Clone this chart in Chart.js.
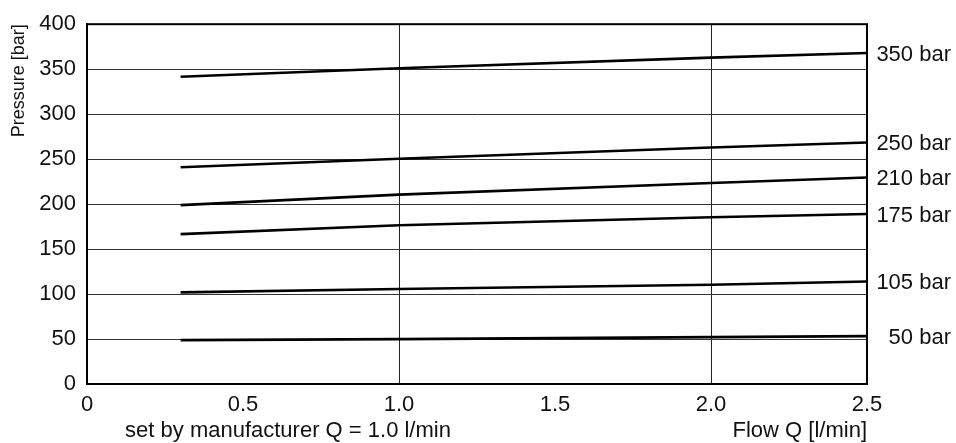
<!DOCTYPE html>
<html>
<head>
<meta charset="utf-8">
<script src="https://cdn.jsdelivr.net/npm/chart.js@4"></script>
<style>
html,body{margin:0;padding:0;background:#fff;}
#c{display:block;}
</style>
</head>
<body>
<canvas id="c" width="956" height="443"></canvas>
<script>
// ---- data ----
const flowQ = [0.3, 1.0, 2.0, 2.5];
const seriesNames = ["350 bar", "250 bar", "210 bar", "175 bar", "105 bar", "50 bar"];
const p350 = [341.6, 351.0, 362.8, 368.0];
const p250 = [241.0, 250.5, 263.0, 268.4];
const p210 = [198.9, 210.5, 223.4, 229.6];
const p175 = [166.6, 176.5, 185.3, 189.0];
const p105 = [101.9, 105.6, 110.3, 113.9];
const p50  = [48.8, 49.9, 52.1, 53.2];
const xTicks = [0, 0.5, 1.0, 1.5, 2.0, 2.5];
const yTicks = [0, 50, 100, 150, 200, 250, 300, 350, 400];
const xTitleLeft = "set by manufacturer Q = 1.0 l/min";
const xTitleRight = "Flow Q [l/min]";
const yTitle = "Pressure [bar]";

const allSeries = [p350, p250, p210, p175, p105, p50];
const FONT = "'Liberation Sans', Arial, sans-serif";

const datasets = allSeries.map((s, i) => ({
  label: seriesNames[i],
  data: flowQ.map((x, j) => ({x: x, y: s[j]})),
  borderColor: '#000',
  borderWidth: 2.6,
  pointRadius: 0,
  tension: 0,
  fill: false
}));

const extras = {
  id: 'extras',
  afterDraw(chart) {
    const ctx = chart.ctx;
    const a = chart.chartArea;
    const xs = chart.scales.x, ys = chart.scales.y;
    ctx.save();
    // frame
    ctx.strokeStyle = '#000';
    ctx.lineWidth = 2;
    ctx.strokeRect(a.left, a.top, a.right - a.left, a.bottom - a.top);
    // right labels
    ctx.fillStyle = '#111';
    ctx.font = "22px " + FONT;
    ctx.textAlign = 'right';
    ctx.textBaseline = 'middle';
    allSeries.forEach((s, i) => {
      const y = ys.getPixelForValue(s[s.length - 1]);
      ctx.fillText(seriesNames[i], 951, y + 1.5);
    });
    // x titles
    ctx.font = "22px " + FONT;
    ctx.textAlign = 'center';
    ctx.fillText(xTitleLeft, 288, 431);
    ctx.textAlign = 'right';
    ctx.fillText(xTitleRight, a.right, 431);
    // y title
    ctx.translate(19, a.top);
    ctx.rotate(-Math.PI / 2);
    ctx.font = "18px " + FONT;
    ctx.textAlign = 'right';
    ctx.fillText(yTitle, 0, 0);
    ctx.restore();
  }
};

new Chart(document.getElementById('c'), {
  type: 'line',
  data: { datasets },
  options: {
    responsive: false,
    devicePixelRatio: 1,
    animation: false,
    layout: { padding: { left: 0, right: 89, top: 20, bottom: 0 } },
    plugins: { legend: { display: false }, tooltip: { enabled: false } },
    scales: {
      x: {
        type: 'linear',
        min: 0, max: 2.5,
        afterBuildTicks(s) { s.ticks = xTicks.map(v => ({value: v})); },
        afterFit(s) { s.height = 59; },
        ticks: {
          color: '#111',
          font: { family: FONT, size: 22 },
          padding: 8,
          maxRotation: 0,
          callback: v => v === 0 ? '0' : v.toFixed(1)
        },
        grid: {
          drawTicks: false,
          color: c => (c.tick && (c.tick.value === 1 || c.tick.value === 2)) ? '#222' : 'rgba(0,0,0,0)',
          lineWidth: 1
        },
        border: { display: true, color: '#000', width: 2 }
      },
      y: {
        type: 'linear',
        min: 0, max: 400,
        afterBuildTicks(s) { s.ticks = yTicks.map(v => ({value: v})); },
        afterFit(s) { s.width = 87; },
        ticks: {
          color: '#111',
          font: { family: FONT, size: 22 },
          padding: 11
        },
        grid: {
          drawTicks: false,
          color: c => (c.tick && c.tick.value > 0 && c.tick.value < 400) ? '#333' : 'rgba(0,0,0,0)',
          lineWidth: 1
        },
        border: { display: true, color: '#000', width: 2 }
      }
    }
  },
  plugins: [extras]
});
</script>
</body>
</html>
